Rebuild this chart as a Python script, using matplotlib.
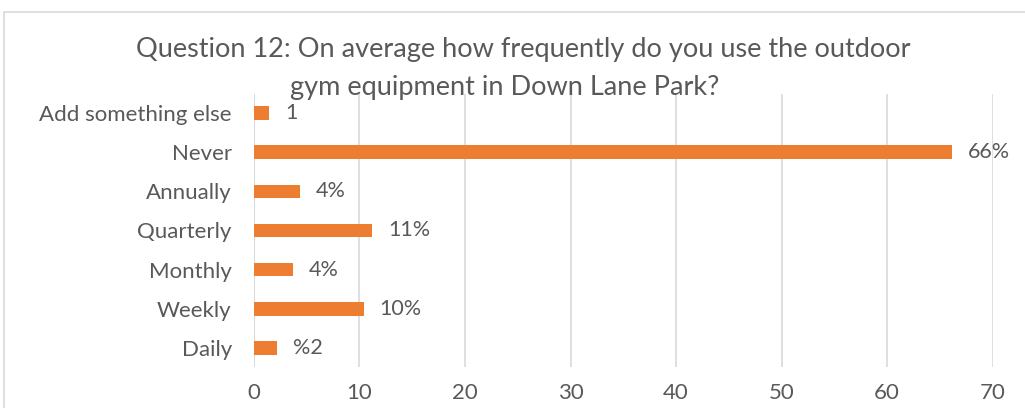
import matplotlib.pyplot as plt
from matplotlib.patches import Rectangle

categorias = ['Daily', 'Weekly', 'Monthly', 'Quarterly', 'Annually', 'Never', 'Add something else']
valores = [2.2, 10.4, 3.7, 11.2, 4.4, 66.2, 1.45]
rotulos = ['%2', '10%', '4%', '11%', '4%', '66%', '1']
titulo = ['Question 12: On average how frequently do you use the outdoor',
          'gym equipment in Down Lane Park?']

laranja = '#ED7D31'
cinza = '#595959'

plt.rcParams['font.family'] = ['Lato', 'DejaVu Sans']

fig = plt.figure(figsize=(10.25, 4.08), dpi=100)
ax = fig.add_axes([0.2478, 0.0993, 0.7205, 0.6715])

y = range(len(categorias))
ax.barh(y, valores, height=0.35, color=laranja, zorder=3)
for i, v in enumerate(valores):
    ax.text(v + 1.5, i, rotulos[i], va='center', ha='left', fontsize=15.5, color=cinza)

ax.set_xlim(0, 70)
ax.set_ylim(-0.5, len(categorias) - 0.5)
ax.set_xticks(range(0, 71, 10))
ax.set_yticks(list(y))
ax.set_yticklabels(categorias)
ax.tick_params(axis='both', length=0, labelsize=16, colors=cinza)
ax.tick_params(axis='x', pad=11)
ax.tick_params(axis='y', pad=16)
ax.grid(axis='x', color='#D9D9D9', linewidth=1.2, zorder=0)
for s in ax.spines.values():
    s.set_visible(False)
ax.axvline(0, color='#D9D9D9', linewidth=1.2, zorder=1)

# titulo em duas linhas, como no original
fig.text(523 / 1025, 1 - 50 / 408, titulo[0], ha='center', va='center', fontsize=19.5, color=cinza)
fig.text(505 / 1025, 1 - 88 / 408, titulo[1], ha='center', va='center', fontsize=19.5, color=cinza)

fig.patches.append(Rectangle((4 / 1025, -0.1), 1.2, 1 - 11.5 / 408 + 0.1, transform=fig.transFigure,
                             fill=False, edgecolor='#D9D9D9', linewidth=1.2))

plt.savefig('out.png')
